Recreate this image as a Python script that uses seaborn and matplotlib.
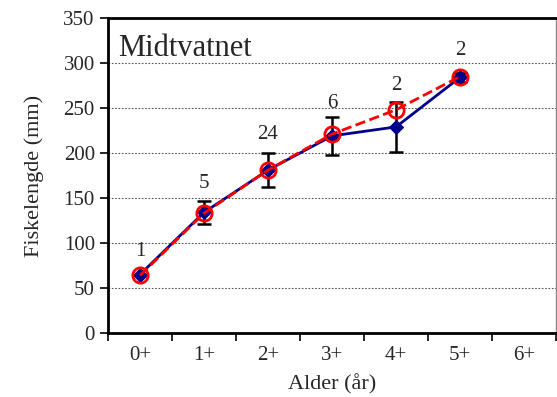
import numpy as np
import pandas as pd
import matplotlib.pyplot as plt
import seaborn as sns

# data
ages = ['0+', '1+', '2+', '3+', '4+', '5+', '6+']
blue_len = [65, 134, 181, 219, 229, 284]
blue_err = [0, 13, 19, 21, 28, 5]
red_len = [64, 133, 181, 221, 248, 285]
n_fish = ['1', '5', '24', '6', '2', '2']
label_y = [80, 155, 210, 245, 265, 303]

sns.set_style('white')
plt.rcParams['font.family'] = ['Liberation Serif', 'DejaVu Serif']

fig = plt.figure(figsize=(5.57, 3.97), dpi=100)
ax = fig.add_axes([108 / 557, 1 - 333 / 397, 448 / 557, 315 / 397])

df = pd.DataFrame({'x': np.arange(len(blue_len)), 'blue': blue_len, 'red': red_len})

ax.errorbar(df['x'], df['blue'], yerr=blue_err, fmt='none', ecolor='black',
            elinewidth=1.8, capsize=5, capthick=1.8, zorder=2)
sns.lineplot(data=df, x='x', y='blue', ax=ax, color='#00008B', lw=2,
             marker='D', markersize=7.5, markeredgecolor='#00008B', zorder=3)
sns.lineplot(data=df, x='x', y='red', ax=ax, color='#FF0000', lw=2,
             linestyle='--', marker='o', markersize=11, markerfacecolor='none',
             markeredgecolor='#FF0000', markeredgewidth=2, zorder=4)

for i, (t, yy) in enumerate(zip(n_fish, label_y)):
    ax.text(i, yy, t, ha='center', va='bottom', fontsize=15)

ax.text(0.022, 0.95, 'Midtvatnet', transform=ax.transAxes, fontsize=22,
        ha='left', va='top')

ax.set_xlim(-0.5, len(ages) - 0.5)
ax.set_ylim(0, 350)
ax.set_yticks(range(0, 351, 50))
ax.set_xticks(np.arange(-0.5, len(ages), 1))
ax.set_xticklabels([])
ax.set_xticks(np.arange(len(ages)), minor=True)
ax.set_xticklabels(ages, minor=True)
ax.tick_params(axis='x', which='major', direction='out', length=6, width=1.2,
               color='black', bottom=True)
ax.tick_params(axis='x', which='minor', length=0, labelsize=15, pad=9)
ax.tick_params(axis='y', direction='out', length=6, width=1.2, color='black',
               left=True, labelsize=15)

ax.yaxis.grid(True, linestyle=(0, (1.5, 1.5)), color='#555555', lw=0.8)
ax.xaxis.grid(False)
for s in ['left', 'bottom', 'top']:
    ax.spines[s].set_color('black')
    ax.spines[s].set_linewidth(2)
ax.spines['right'].set_color('#888888')
ax.spines['right'].set_linewidth(1)

ax.set_xlabel('Alder (år)', fontsize=16, labelpad=7)
ax.set_ylabel('Fiskelengde (mm)', fontsize=16, labelpad=14)

fig.savefig('out.png', dpi=100)
